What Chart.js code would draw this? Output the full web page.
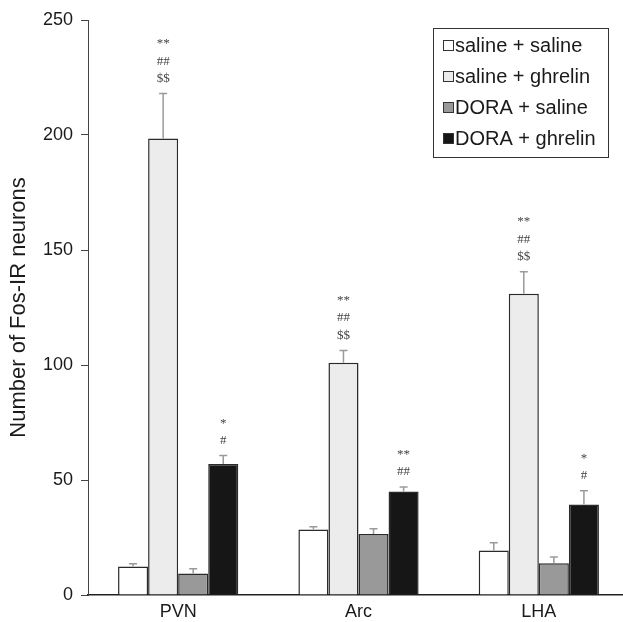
<!DOCTYPE html>
<html>
<head>
<meta charset="utf-8">
<script src="https://cdn.jsdelivr.net/npm/chart.js@4"></script>
<style>
	html, body { margin: 0; padding: 0; background: #fff; overflow: hidden; }
	#wrap { position: absolute; left: 0; top: 0; width: 629px; height: 622px; }
</style>
</head>
<body>
<div id="wrap"><canvas id="fosChart" width="629" height="622"></canvas></div>
<script>
const categories = ['PVN', 'Arc', 'LHA'];
const yTicks = [0, 50, 100, 150, 200, 250];

const seriesNames = ['saline + saline', 'saline + ghrelin', 'DORA + saline', 'DORA + ghrelin'];
const salineSaline = [12.4, 28.5, 19.3];
const salineGhrelin = [198.5, 101, 131];
const doraSaline = [9.4, 26.5, 13.8];
const doraGhrelin = [57, 45, 39.3];

const salineSalineSem = [1.2, 1.2, 3.4];
const salineGhrelinSem = [19.5, 5.3, 9.5];
const doraSalineSem = [2, 2.3, 2.7];
const doraGhrelinSem = [3.6, 2, 6];

const salineSalineMarks = ['', '', ''];
const salineGhrelinMarks = ['**\n##\n$$', '**\n##\n$$', '**\n##\n$$'];
const doraSalineMarks = ['', '', ''];
const doraGhrelinMarks = ['*\n#', '**\n##', '*\n#'];

const fills = ['#ffffff', '#ebeceb', '#999999', '#161616'];

function makeDataset(label, data, sem, marks, color) {
	return {
		label,
		data,
		sem,
		marks,
		backgroundColor: color,
		borderColor: '#2a2a2a',
		borderWidth: 1.5,
		categoryPercentage: 2 / 3,
		barPercentage: 1,
	};
}

// upward error bars + significance marks above them
const errorBarPlugin = {
	id: 'errorBars',
	afterDatasetsDraw(chart) {
		const ctx = chart.ctx;
		const yScale = chart.scales.y;
		chart.data.datasets.forEach((ds, di) => {
			const meta = chart.getDatasetMeta(di);
			meta.data.forEach((bar, i) => {
				const top = yScale.getPixelForValue(ds.data[i] + ds.sem[i]);
				ctx.save();
				ctx.strokeStyle = '#9a9a9a';
				ctx.lineWidth = 1.5;
				ctx.beginPath();
				ctx.moveTo(bar.x, bar.y);
				ctx.lineTo(bar.x, top);
				ctx.moveTo(bar.x - 4, top);
				ctx.lineTo(bar.x + 4, top);
				ctx.stroke();

				const lines = ds.marks[i] ? ds.marks[i].split('\n') : [];
				ctx.fillStyle = '#444';
				ctx.font = '13px "Liberation Serif", "DejaVu Serif", serif';
				ctx.textAlign = 'center';
				ctx.textBaseline = 'middle';
				lines.reverse().forEach((txt, k) => {
					ctx.fillText(txt, bar.x, top - 15 - k * 17.5);
				});
				ctx.restore();
			});
		});
	},
};

const boxLegendPlugin = {
	id: 'boxLegend',
	afterDraw(chart) {
		const ctx = chart.ctx;
		const left = 433;
		const top = 28;
		ctx.save();
		ctx.strokeStyle = '#333';
		ctx.lineWidth = 1;
		ctx.strokeRect(left + 0.5, top + 0.5, 175, 129);
		ctx.font = '20px "Liberation Sans", Arial, sans-serif';
		ctx.textBaseline = 'middle';
		ctx.textAlign = 'left';
		chart.data.datasets.forEach((ds, i) => {
			const cy = top + 17 + i * 31;
			ctx.fillStyle = ds.backgroundColor;
			ctx.fillRect(left + 10, cy - 5, 10, 10);
			ctx.strokeStyle = '#333';
			ctx.strokeRect(left + 10.5, cy - 4.5, 10, 10);
			ctx.fillStyle = '#1a1a1a';
			ctx.fillText(ds.label, left + 22, cy + 1);
		});
		ctx.restore();
	},
};

new Chart(document.getElementById('fosChart').getContext('2d'), {
	type: 'bar',
	data: {
		labels: categories,
		datasets: [
			makeDataset(seriesNames[0], salineSaline, salineSalineSem, salineSalineMarks, fills[0]),
			makeDataset(seriesNames[1], salineGhrelin, salineGhrelinSem, salineGhrelinMarks, fills[1]),
			makeDataset(seriesNames[2], doraSaline, doraSalineSem, doraSalineMarks, fills[2]),
			makeDataset(seriesNames[3], doraGhrelin, doraGhrelinSem, doraGhrelinMarks, fills[3]),
		],
	},
	options: {
		responsive: false,
		animation: false,
		layout: { padding: { top: 20, right: 0, bottom: 0, left: 0 } },
		plugins: {
			legend: { display: false },
			tooltip: { enabled: false },
		},
		scales: {
			x: {
				grid: { display: false, drawTicks: false },
				border: { color: '#222', width: 1.5 },
				ticks: {
					color: '#1a1a1a',
					padding: 6,
					font: { family: '"Liberation Sans", Arial, sans-serif', size: 18 },
				},
				afterFit(scale) { scale.height = 27; },
			},
			y: {
				min: 0,
				max: 250,
				afterBuildTicks(scale) { scale.ticks = yTicks.map((v) => ({ value: v })); },
				grid: { drawOnChartArea: false, drawTicks: true, tickLength: 7, color: '#444' },
				border: { color: '#444', width: 1 },
				ticks: {
					color: '#1a1a1a',
					padding: 8,
					font: { family: '"Liberation Sans", Arial, sans-serif', size: 18 },
				},
				title: {
					display: true,
					text: 'Number of Fos-IR neurons',
					color: '#1a1a1a',
					padding: { top: 6, bottom: 0 },
					font: { family: '"Liberation Sans", Arial, sans-serif', size: 22, weight: 'normal' },
				},
				afterFit(scale) { scale.width = 88; },
			},
		},
	},
	plugins: [errorBarPlugin, boxLegendPlugin],
});
</script>
</body>
</html>
